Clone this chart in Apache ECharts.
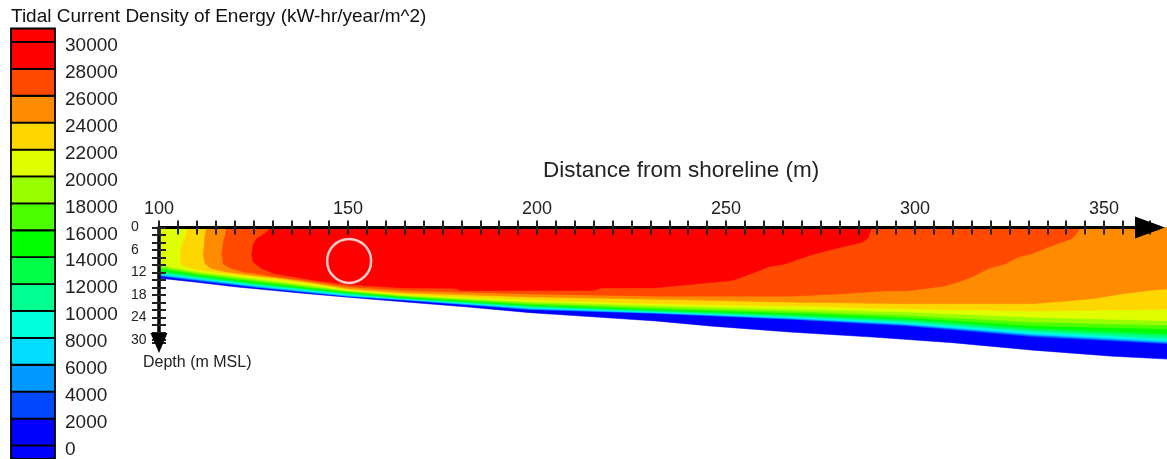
<!DOCTYPE html>
<html>
<head>
<meta charset="utf-8">
<script src="https://cdn.jsdelivr.net/npm/echarts@6/dist/echarts.min.js"></script>
<style>
html,body{margin:0;padding:0;background:#fff;}
#chart{width:1167px;height:459px;}
</style>
</head>
<body>
<div id="chart"></div>
<script>
// ---- Colour bands (lower bound of each band, kW-hr/year/m^2) ----
const bandLevels = [0, 2000, 4000, 6000, 8000, 10000, 12000, 14000, 16000, 18000, 20000, 22000, 24000, 26000, 28000];
const bandColors = ['#0000FF', '#0048FF', '#0099FF', '#00DDFF', '#00FFDD', '#00FF90', '#00FF48', '#00FF00',
                    '#4CFF00', '#99FF00', '#DFFF00', '#FFD700', '#FF8C00', '#FF4A00', '#FF0000'];

// ---- Legend ----
const legendLabels = [0, 2000, 4000, 6000, 8000, 10000, 12000, 14000, 16000, 18000, 20000, 22000, 24000, 26000, 28000, 30000];
const legendLo = [-1000, 0, 2000, 4000, 6000, 8000, 10000, 12000, 14000, 16000, 18000, 20000, 22000, 24000, 26000, 28000, 30000];
const legendHi = [0, 2000, 4000, 6000, 8000, 10000, 12000, 14000, 16000, 18000, 20000, 22000, 24000, 26000, 28000, 30000, 31000];
const legendColors = ['#0000FF', '#0000FF', '#0048FF', '#0099FF', '#00DDFF', '#00FFDD', '#00FF90', '#00FF48', '#00FF00',
                      '#4CFF00', '#99FF00', '#DFFF00', '#FFD700', '#FF8C00', '#FF4A00', '#FF0000', '#FF0000'];

// ---- Sea bed: [distance from shoreline (m), depth (m)] ----
const seaBed = [[100,13.5],[110,14.6],[120,15.8],[137.8,17.5],[150,18.6],[165.9,19.9],[181.7,21.2],[198.1,22.7],
  [214.6,23.8],[231.2,24.9],[246.3,26.3],[267.5,27.9],[288.6,29.2],[309.8,30.7],[331.2,32.7],[352.1,34.3],[366.7,35.1]];

// ---- Contour lines (boundary of the region >= level): [distance, depth] ----
const c2000  = [[100,13.0],[110,14.2],[125,15.9],[150,18.4],[165,19.4],[198,21.9],[231,22.9],[267.5,24.5],[297.4,26.2],[331,29.1],[366.7,31.0]];
const c4000  = [[100,12.8],[110,14.0],[125,15.8],[150,18.3],[165,19.3],[198,21.8],[231,22.8],[267.5,24.4],[297.4,26.0],[331,28.8],[366.7,30.8]];
const c6000  = [[100,12.6],[110,13.8],[125,15.6],[150,18.2],[165,19.2],[198,21.6],[231,22.7],[267.5,24.2],[297.4,25.8],[331,28.5],[366.7,30.5]];
const c8000  = [[100,12.4],[110,13.6],[125,15.4],[150,18.0],[165,19.1],[198,21.4],[231,22.6],[267.5,24.0],[297.4,25.5],[331,28.2],[366.7,30.1]];
const c10000 = [[100,12.1],[110,13.4],[125,15.2],[150,17.8],[165,19.0],[198,21.2],[231,22.4],[267.5,23.8],[297.4,25.2],[331,27.7],[366.7,29.7]];
const c12000 = [[100,11.8],[110,13.1],[125,15.0],[150,17.6],[165,18.9],[198,21.0],[231,22.2],[267.5,23.5],[297.4,24.8],[331,27.3],[366.7,28.9]];
const c14000 = [[100,11.4],[110,12.8],[125,14.7],[150,17.4],[165,18.7],[198,20.8],[231,22.0],[267.5,23.2],[297.4,24.4],[331,26.8],[366.7,28.3]];
const c16000 = [[100,10.9],[110,12.5],[125,14.4],[150,17.2],[165,18.5],[198,20.5],[231,21.7],[267.5,22.8],[297.4,24.0],[331,26.2],[366.7,27.1]];
const c18000 = [[100,10.4],[110,12.2],[125,14.0],[150,17.0],[165,18.3],[198,20.2],[231,21.3],[267.5,22.3],[297.4,23.4],[331,25.2],[366.7,26.1]];
const c20000 = [[100,9.9],[110,11.8],[125,13.6],[150,16.8],[165,18.1],[198,19.8],[231,20.8],[267.5,21.8],[297.4,22.5],[331,23.9],[366.7,24.9]];
const c22000 = [[107.5,0],[106.9,3],[106,4.7],[105.6,7.4],[105.8,9.7],[106.9,10.5],[110.4,11.3],[116.6,12.2],[125,13.1],
  [132.5,14.0],[141.3,15],[150,16.6],[165,17.8],[198,19.3],[231,20.3],[267.5,20.9],[297.4,21.7],[331,22.3],[366.7,21.8]];
const c24000 = [[112.6,0],[112.2,2.1],[112,3.9],[111.7,7.4],[112.2,9.7],[113.9,11],[118.3,11.9],[125,12.8],[132.5,13.6],
  [140,14.7],[150,16.3],[165,17.4],[198,18.5],[231,19.1],[267.5,19.9],[297.4,20.3],[331,20.3],[338.9,19.7],[346.8,19],
  [354.8,17.7],[361.6,16.8],[366.7,16.4]];
const c26000 = [[117.9,0],[117.5,2.1],[117,3.9],[116.6,7.4],[117,9.7],[119.2,11],[122.8,11.9],[125,12.2],[130,13],[140,14.3],
  [150,15.8],[165,16.8],[198,17.7],[231,18.3],[267.5,18.3],[280,17.7],[292,16.9],[297.4,16.9],[302.6,16.3],[307.9,15.6],
  [312.7,14.1],[315.9,12.8],[319.3,11],[323.8,9.7],[327.2,7.9],[330.9,7],[334.4,5.6],[337.8,4.3],[341.5,3],[343.1,1.2],[343.7,0]];
const c28000 = [[129.8,0],[128,1.6],[125.8,3],[124.9,4.7],[124.5,7.4],[124.9,9.2],[127.2,11],[130.7,12.3],[136,13.2],
  [141.3,14.1],[150,15.2],[165,16.1],[178,16.2],[180,16.8],[215,16.8],[217,16.1],[231,16.1],[238.4,15.4],[244.4,14.8],
  [251.6,14.1],[254.2,13.2],[257.7,11.9],[261.1,10.5],[265.6,9.7],[269,8.5],[272.8,7.2],[276.2,6.3],[279.4,5.5],
  [282.3,4.8],[286,3.9],[287.6,2.8],[288.6,0]];

// Marked site (white circle)
const markedSite = [[150.3, 8.9]];

const contours = [seaBed, c2000, c4000, c6000, c8000, c10000, c12000, c14000, c16000, c18000, c20000, c22000, c24000, c26000, c28000];

const FONT = 'Liberation Sans, Arial, sans-serif';
const chart = echarts.init(document.getElementById('chart'), null, {renderer: 'canvas'});

function renderContour(params, api) {
  const i = params.dataIndex;
  const line = contours[i];
  const pts = [[line[0][0], 0]].concat(line, [[line[line.length - 1][0], 0]]).map(p => api.coord(p));
  return {type: 'polygon', shape: {points: pts}, style: {fill: bandColors[i], stroke: bandColors[i], lineWidth: 0.5}};
}
function renderLegend(params, api) {
  const i = params.dataIndex;
  const p0 = api.coord([0, legendHi[i]]);
  const p1 = api.coord([1, legendLo[i]]);
  return {type: 'rect', shape: {x: p0[0], y: p0[1], width: p1[0] - p0[0], height: p1[1] - p0[1]},
          style: {fill: legendColors[i], stroke: '#000', lineWidth: 1.8}};
}

const option = {
  backgroundColor: '#fff',
  animation: false,
  title: [
    {text: 'Tidal Current Density of Energy (kW-hr/year/m^2)', left: 11, top: 7, padding: 0,
     textStyle: {fontSize: 19, fontWeight: 'normal', color: '#111', fontFamily: FONT}},
    {text: 'Distance from shoreline (m)', left: 543, top: 159, padding: 0,
     textStyle: {fontSize: 22.5, fontWeight: 'normal', color: '#222', fontFamily: FONT}},
    {text: 'Depth (m MSL)', left: 143, top: 355, padding: 0,
     textStyle: {fontSize: 16, fontWeight: 'normal', color: '#222', fontFamily: FONT}}
  ],
  grid: [
    {left: 159, top: 227.5, width: 991, height: 115.5, containLabel: false},
    {left: 11, top: 28.5, width: 44, height: 431.5, containLabel: false}
  ],
  xAxis: [
    {type: 'value', gridIndex: 0, position: 'top', min: 100, max: 362.17, interval: 5, z: 10,
     axisLine: {show: true, onZero: false, symbol: ['none', 'triangle'], symbolSize: [22, 30], lineStyle: {color: '#000', width: 3}},
     axisTick: {show: true, length: 7, lineStyle: {color: '#222', width: 2}},
     axisLabel: {show: true, margin: 9, fontSize: 18, color: '#222', fontFamily: FONT,
                 formatter: v => (Math.round(v) % 50 === 0 ? String(Math.round(v)) : '')},
     splitLine: {show: false}},
    {type: 'value', gridIndex: 0, position: 'bottom', offset: -115.5, min: 100, max: 362.17, interval: 5, z: 10,
     axisLine: {show: false, onZero: false},
     axisTick: {show: true, length: 7, lineStyle: {color: '#222', width: 2}},
     axisLabel: {show: false}, splitLine: {show: false}},
    {type: 'value', gridIndex: 1, min: 0, max: 1, show: false}
  ],
  yAxis: [
    {type: 'value', gridIndex: 0, position: 'left', inverse: true, min: 0, max: 30.8, interval: 2, z: 10,
     axisLine: {show: true, onZero: false, symbol: ['triangle', 'none'], symbolSize: [17, 20], lineStyle: {color: '#000', width: 3.5}},
     axisTick: {show: true, length: 7, lineStyle: {color: '#222', width: 2}},
     axisLabel: {show: true, align: 'left', margin: 28, fontSize: 14, color: '#222', fontFamily: FONT,
                 formatter: v => (Math.round(v) % 6 === 0 ? String(Math.round(v)) : '')},
     splitLine: {show: false}},
    {type: 'value', gridIndex: 0, position: 'right', offset: -991, inverse: true, min: 0, max: 30.8, interval: 2, z: 10,
     axisLine: {show: false, onZero: false},
     axisTick: {show: true, length: 7, lineStyle: {color: '#222', width: 2}},
     axisLabel: {show: false}, splitLine: {show: false}},
    // legend boxes axis
    {type: 'value', gridIndex: 1, position: 'left', min: -1000, max: 31000, show: false},
    // legend labels axis (shifted a few pixels lower so the text sits like the original)
    {type: 'value', gridIndex: 1, position: 'right', min: -700, max: 31300,
     axisLine: {show: false}, axisTick: {show: false}, splitLine: {show: false},
     axisLabel: {show: true, margin: 10, fontSize: 19, color: '#222', fontFamily: FONT,
                 customValues: legendLabels, formatter: v => String(v)}}
  ],
  series: [
    {type: 'custom', name: 'energy', xAxisIndex: 0, yAxisIndex: 0, clip: false, z: 2,
     renderItem: renderContour,
     data: bandLevels.map((lv, i) => [contours[i][0][0], 0, lv])},
    {type: 'scatter', xAxisIndex: 0, yAxisIndex: 0, z: 5, symbol: 'circle', symbolSize: 44,
     itemStyle: {color: 'rgba(0,0,0,0)', borderColor: '#fff', borderWidth: 2.5},
     data: markedSite, silent: true},
    {type: 'custom', name: 'legend', xAxisIndex: 2, yAxisIndex: 2, clip: false, z: 2,
     renderItem: renderLegend,
     data: legendLo.map((lo, i) => [0.5, (lo + legendHi[i]) / 2])}
  ]
};
chart.setOption(option);
</script>
</body>
</html>
